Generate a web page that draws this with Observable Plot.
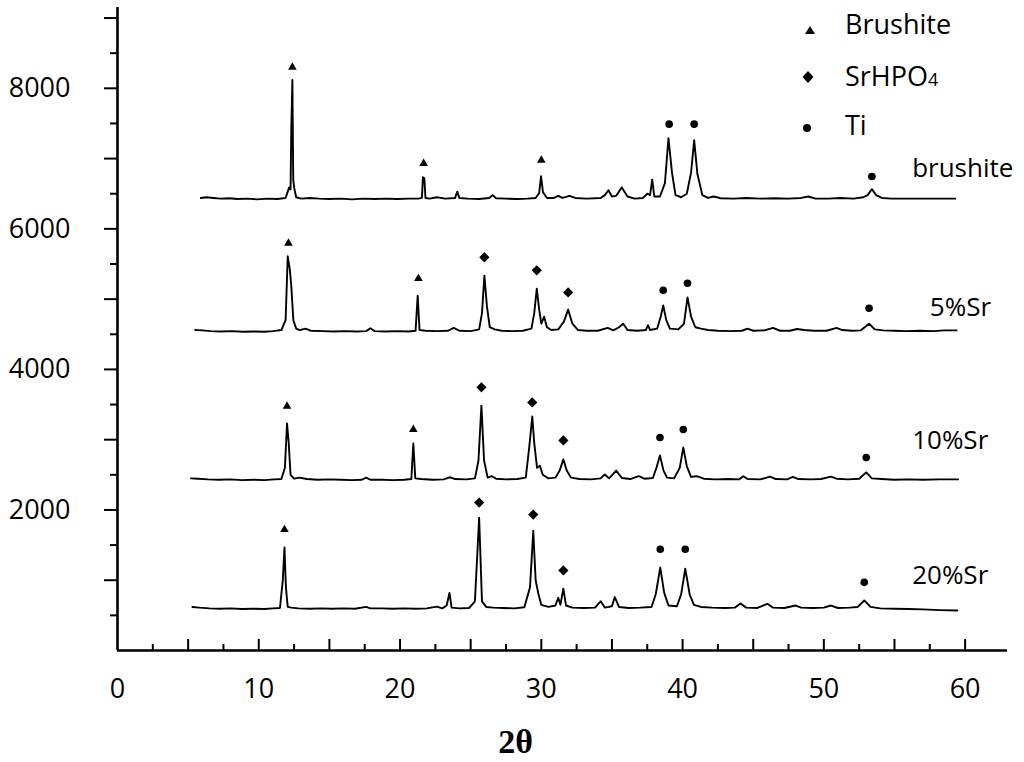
<!DOCTYPE html>
<html><head><meta charset="utf-8">
<script src="https://cdn.jsdelivr.net/npm/d3@7"></script>
<script src="https://cdn.jsdelivr.net/npm/@observablehq/plot@0.6"></script>
<style>
body{margin:0;background:#fff;}
#wrap{position:relative;width:1024px;height:762px;font-family:'Open Sans',sans-serif;color:#000;}
#legend{position:absolute;left:0;top:0;width:1024px;height:160px;pointer-events:none;}
.lt{position:absolute;left:845px;font-size:27px;line-height:27px;white-space:nowrap;}
</style></head><body><div id="wrap"></div>
<script>
// ---- data: 2θ (deg) and intensity (counts, offset stacked) ----
const brushiteTheta = [5.9,6.3,6.8,7.3,7.9,8.5,9.2,9.9,10.6,11.3,11.9,12.15,12.25,12.3,12.38,12.44,12.5,12.65,13.0,13.6,14.3,15.0,15.8,16.6,17.4,18.2,19.0,19.8,20.6,21.3,21.55,21.62,21.72,21.8,22.1,22.6,23.2,23.9,24.05,24.2,24.8,25.6,26.3,26.55,26.8,27.5,28.3,29.0,29.6,29.85,29.98,30.12,30.4,30.9,31.2,31.5,32.0,32.4,33.2,34.2,34.5,34.75,35.0,35.3,35.7,36.1,36.6,37.2,37.5,37.7,37.85,38.0,38.4,38.75,39.0,39.25,39.5,39.9,40.3,40.6,40.82,41.05,41.4,41.8,42.2,42.7,43.6,44.5,45.5,46.5,47.5,48.4,48.9,49.4,50.3,51.2,52.1,52.8,53.1,53.4,53.7,54.1,54.8,56.0,57.2,58.3,59.3];
const brushiteCounts = [6440,6450,6440,6430,6435,6425,6430,6420,6430,6425,6440,6590,6560,7400,8120,6700,6590,6450,6430,6440,6430,6425,6430,6420,6430,6425,6430,6425,6430,6430,6440,6735,6720,6440,6430,6450,6430,6440,6530,6440,6430,6425,6440,6480,6435,6430,6425,6430,6440,6510,6750,6520,6440,6440,6470,6440,6470,6440,6430,6440,6480,6550,6460,6470,6590,6460,6430,6440,6500,6480,6700,6460,6460,6650,7290,6800,6480,6450,6500,6800,7260,6780,6480,6440,6460,6435,6430,6440,6430,6435,6430,6440,6460,6430,6430,6440,6430,6450,6480,6565,6480,6440,6430,6430,6430,6430,6430];

const sr5Theta = [5.5,6.0,6.6,7.3,8.1,8.9,9.7,10.4,11.0,11.6,11.9,12.05,12.2,12.3,12.45,12.65,12.9,13.3,13.7,14.5,15.3,16.1,16.9,17.6,17.9,18.2,19.0,19.8,20.6,21.1,21.25,21.38,21.8,22.6,23.4,23.8,24.2,25.0,25.6,25.8,25.97,26.15,26.35,26.7,27.2,28.0,28.7,29.3,29.5,29.68,29.85,30.0,30.2,30.4,30.7,31.2,31.6,31.9,32.2,32.6,33.2,34.0,34.7,35.1,35.5,35.8,36.1,36.8,37.4,37.55,37.7,38.2,38.45,38.63,38.85,39.1,39.7,40.1,40.35,40.6,40.9,41.3,41.8,42.5,43.4,44.2,44.6,45.0,45.8,46.4,46.9,47.6,48.1,48.6,49.3,50.2,50.9,51.3,52.0,52.6,53.2,53.6,54.2,55.0,55.8,56.8,57.8,58.5,59.4];
const sr5Counts = [4560,4555,4545,4540,4545,4535,4540,4535,4545,4560,4700,5610,5420,5190,4700,4580,4560,4580,4550,4545,4540,4545,4540,4545,4585,4545,4540,4545,4540,4550,5050,4560,4550,4545,4550,4590,4550,4545,4570,4800,5335,4900,4600,4570,4550,4545,4550,4580,4800,5150,4850,4650,4750,4600,4560,4570,4680,4850,4650,4560,4550,4550,4590,4555,4600,4650,4560,4550,4560,4630,4560,4580,4750,4910,4700,4580,4570,4650,5025,4750,4600,4580,4560,4550,4545,4550,4580,4550,4555,4590,4550,4550,4575,4560,4550,4550,4590,4560,4550,4555,4650,4570,4555,4550,4545,4550,4545,4555,4555];

const sr10Theta = [5.2,5.7,6.4,7.2,8.0,8.8,9.6,10.4,11.1,11.6,11.85,12.0,12.12,12.25,12.5,12.9,13.4,14.2,15.0,15.8,16.6,17.3,17.6,17.9,18.7,19.5,20.3,20.8,20.94,21.08,21.5,22.3,23.1,23.5,23.9,24.7,25.3,25.55,25.76,25.95,26.2,26.5,26.8,27.5,28.3,28.9,29.15,29.36,29.5,29.7,29.9,30.1,30.5,31.0,31.3,31.56,31.8,32.1,32.7,33.5,34.2,34.5,34.8,35.3,35.7,36.3,36.9,37.3,37.9,38.15,38.4,38.65,38.9,39.4,39.8,40.05,40.3,40.6,41.0,41.5,42.3,43.2,44.0,44.3,44.6,45.5,46.2,46.6,47.4,47.8,48.2,49.1,49.8,50.5,50.9,51.7,52.5,53.0,53.4,54.1,55.0,56.0,57.0,58.2,59.5];
const sr10Counts = [2450,2445,2435,2430,2435,2425,2430,2425,2435,2440,2600,3230,2950,2500,2445,2460,2440,2430,2435,2430,2425,2430,2460,2430,2430,2425,2430,2440,2945,2450,2440,2430,2435,2465,2440,2435,2450,2700,3485,2700,2460,2480,2445,2435,2440,2460,2900,3330,2950,2600,2630,2500,2450,2460,2560,2720,2560,2460,2440,2435,2450,2505,2450,2560,2455,2440,2480,2445,2455,2600,2775,2560,2460,2450,2600,2890,2620,2470,2480,2445,2435,2440,2435,2480,2440,2435,2475,2440,2435,2470,2440,2435,2440,2475,2445,2435,2445,2535,2450,2440,2430,2435,2430,2435,2435];

const sr20Theta = [5.3,5.8,6.5,7.3,8.0,8.8,9.6,10.4,11.0,11.5,11.7,11.82,11.92,12.05,12.3,12.8,13.6,14.4,15.2,16.0,16.8,17.6,17.9,18.7,19.5,20.3,21.1,21.9,22.6,23.0,23.3,23.5,23.65,24.2,24.9,25.3,25.6,25.8,26.1,26.6,27.3,28.1,28.8,29.2,29.43,29.6,29.8,30.0,30.5,31.0,31.2,31.35,31.56,31.75,32.2,33.0,33.8,34.2,34.5,35.0,35.2,35.5,36.2,37.0,37.8,38.1,38.42,38.7,39.0,39.6,39.9,40.19,40.5,40.8,41.3,42.1,43.0,43.7,44.1,44.5,45.3,46.0,46.4,47.2,48.0,48.4,49.2,50.0,50.5,51.0,51.8,52.4,52.86,53.3,54.0,55.0,56.0,57.0,58.2,59.45];
const sr20Counts = [620,610,600,595,600,590,595,590,600,605,1000,1465,900,620,610,600,595,600,595,600,595,620,600,600,595,600,595,600,625,600,640,820,610,600,605,700,1890,700,620,610,605,600,615,900,1705,1000,800,650,620,640,750,650,880,640,610,605,610,700,610,630,760,620,605,610,620,800,1180,820,640,630,800,1165,800,650,620,610,605,610,670,610,605,665,610,605,640,610,605,610,640,605,610,620,712,620,600,595,590,585,575,570];

// phase markers (2θ, height)
const brushiteMarkTheta = [12.38,21.67,30.0,12.1,21.3,12.0,20.94,11.82];
const brushiteMarkCounts = [8300,6930,6975,5795,5295,3475,3145,1720];
const srhpoMarkTheta = [25.97,29.68,31.9,25.76,29.36,31.56,25.6,29.43,31.56];
const srhpoMarkCounts = [5595,5410,5095,3745,3530,2990,2105,1935,1140];
const tiMarkTheta = [39.05,40.82,53.4,38.63,40.35,53.2,38.4,40.05,53.0,38.42,40.19,52.86];
const tiMarkCounts = [7490,7490,6745,5125,5225,4870,3030,3145,2745,1440,1440,970];

// sample labels
const sampleNames = ["brushite","5%Sr","10%Sr","20%Sr"];
const sampleLabelTheta = [56.25,57.5,56.25,56.25];
const sampleLabelCounts = [6860,4885,2990,1070];

// axis ticks
const xLabelTicks = [0,10,20,30,40,50,60];
const xMajorTicks = [5,10,15,20,25,30,35,40,45,50,55,60];
const xMinorTicks = [2.5,7.5,12.5,17.5,22.5,27.5,32.5,37.5,42.5,47.5,52.5,57.5];
const yLabelTicks = [2000,4000,6000,8000];
const yMajorTicks = [1000,2000,3000,4000,5000,6000,7000,8000,9000];
const yMinorTicks = [500,1500,2500,3500,4500,5500,6500,7500,8500];

const legendItems = ["Brushite","SrHPO","Ti"];

// ---- build ----
const toRows = (xs, ys) => xs.map((x, i) => ({x, y: ys[i]}));
const traces = [
  toRows(brushiteTheta, brushiteCounts),
  toRows(sr5Theta, sr5Counts),
  toRows(sr10Theta, sr10Counts),
  toRows(sr20Theta, sr20Counts)
];
const noFmt = () => "";

const chart = Plot.plot({
  width: 1024,
  height: 762,
  marginLeft: 117,
  marginRight: 17,
  marginTop: 7,
  marginBottom: 112,
  style: {fontFamily: "'Open Sans', sans-serif", background: "#fff", color: "#000"},
  x: {domain: [0, 63]},
  y: {domain: [0, 9150]},
  marks: [
    ...traces.map(t => Plot.line(t, {x: "x", y: "y", stroke: "#000", strokeWidth: 1.9})),
    Plot.dot(toRows(brushiteMarkTheta, brushiteMarkCounts), {x: "x", y: "y", symbol: "triangle", r: 3.2, fill: "#000", stroke: "none"}),
    Plot.dot(toRows(srhpoMarkTheta, srhpoMarkCounts), {x: "x", y: "y", symbol: "diamond2", r: 4.6, fill: "#000", stroke: "none"}),
    Plot.dot(toRows(tiMarkTheta, tiMarkCounts), {x: "x", y: "y", symbol: "circle", r: 3.8, fill: "#000", stroke: "none"}),
    Plot.text(sampleNames, {x: (d, i) => sampleLabelTheta[i], y: (d, i) => sampleLabelCounts[i], text: d => d, textAnchor: "start", fontSize: 26, fill: "#000"}),
    Plot.axisY(yMajorTicks, {tickSize: 13, tickFormat: noFmt, label: null, strokeWidth: 2}),
    Plot.axisY(yMinorTicks, {tickSize: 7, tickFormat: noFmt, label: null, strokeWidth: 2}),
    Plot.axisY(yLabelTicks, {tickSize: 0, tickPadding: 47, tickFormat: d3.format("d"), fontSize: 27, label: null}),
    Plot.axisX(xMajorTicks, {tickSize: -11, tickFormat: noFmt, label: null, strokeWidth: 2}),
    Plot.axisX(xMinorTicks, {tickSize: -6, tickFormat: noFmt, label: null, strokeWidth: 2}),
    Plot.axisX(xLabelTicks, {tickSize: 0, tickPadding: 28, tickFormat: d3.format("d"), fontSize: 27, label: null}),
    Plot.ruleX([0], {stroke: "#000", strokeWidth: 2.6}),
    Plot.ruleY([0], {stroke: "#000", strokeWidth: 2.6}),
    Plot.text(["2θ"], {frameAnchor: "bottom", dx: -47, dy: 92, fontFamily: "'Liberation Serif', serif", fontWeight: "bold", fontSize: 34, fill: "#000", lineAnchor: "middle"})
  ]
});

const wrap = document.getElementById("wrap");
wrap.appendChild(chart);

// legend
const leg = document.createElement("div");
leg.id = "legend";
leg.innerHTML = `
<svg width="1024" height="160" style="position:absolute;left:0;top:0">
  <polygon points="810,26 805,34 815,34" fill="#000"/>
  <polygon points="808,71 813.5,77 808,83 802.5,77" fill="#000"/>
  <circle cx="807" cy="128" r="4" fill="#000"/>
</svg>
<div class="lt" style="top:10px">${legendItems[0]}</div>
<div class="lt" style="top:62px">${legendItems[1]}<span style="font-size:18px">4</span></div>
<div class="lt" style="top:111px">${legendItems[2]}</div>`;
wrap.appendChild(leg);
</script></body></html>
